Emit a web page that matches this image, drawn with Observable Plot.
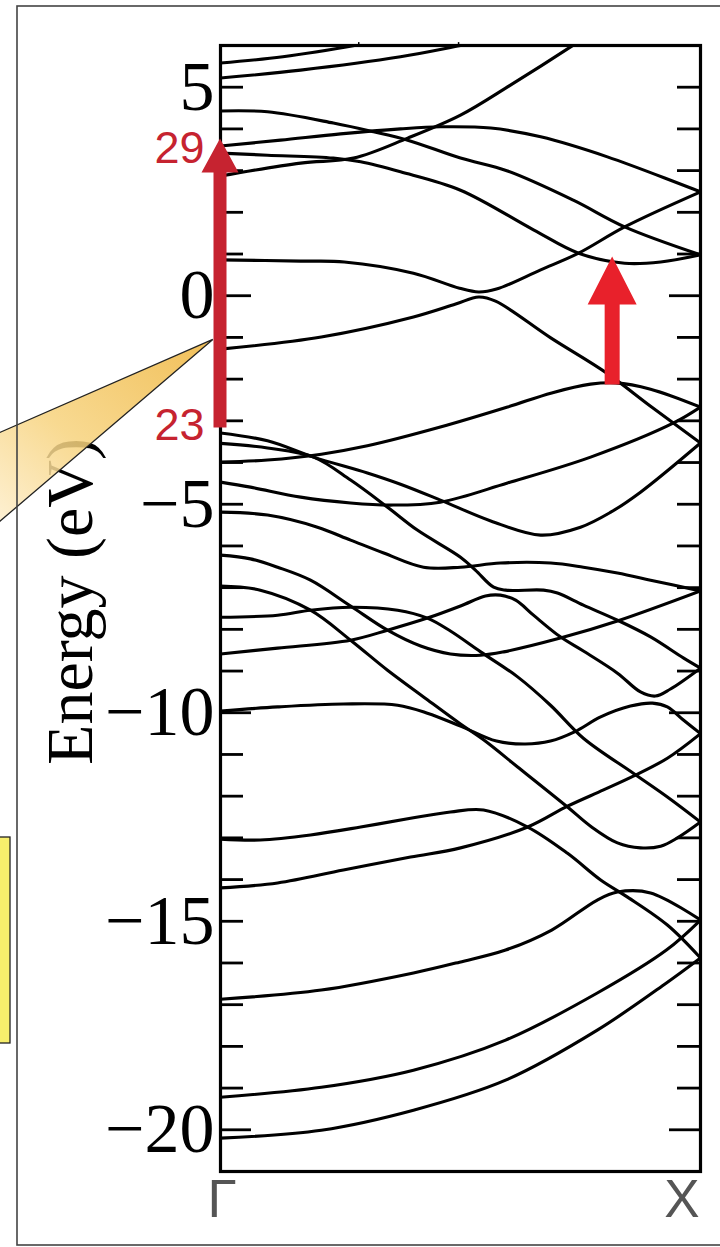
<!DOCTYPE html>
<html><head><meta charset="utf-8">
<script src="https://cdn.jsdelivr.net/npm/d3@7"></script>
<script src="https://cdn.jsdelivr.net/npm/@observablehq/plot@0.6"></script>
<style>html,body{margin:0;padding:0;background:#fff;}#chart{width:720px;height:1247px;overflow:hidden;}</style>
</head><body><div id="chart"></div>
<script>
// k-path labels
const kLabels = ["Γ", "X"];
const kPositions = [0, 1];
// y tick labels (eV) and minor ticks
const yTickLabels = [5, 0, -5, -10, -15, -20];
const yTicks = [5,4,3,2,1,0,-1,-2,-3,-4,-5,-6,-7,-8,-9,-10,-11,-12,-13,-14,-15,-16,-17,-18,-19,-20];
const yLongTicks = [0, -10, -20];
const topTicks = [0.288, 0.496];

// bands: [k, E(eV)]
const bandT1 = [[0,5.58],[0.13,5.73],[0.285,6.01],[0.33,6.11]];
const bandT2 = [[0,5.22],[0.167,5.41],[0.375,5.73],[0.5,6.0],[0.56,6.13]];
const bandT3 = [[0,4.43],[0.098,4.41],[0.235,4.14],[0.319,3.93],[0.39,3.73],[0.5,3.30],[0.598,2.99],[0.735,2.29],[0.842,1.65],[1,0.98]];
const bandT4 = [[0,3.59],[0.125,3.73],[0.25,3.88],[0.375,4.0],[0.458,4.05],[0.563,4.02],[0.667,3.81],[0.806,3.33],[1,2.49]];
const bandT5 = [[0,3.42],[0.098,3.37],[0.235,3.30],[0.292,3.21],[0.375,2.97],[0.5,2.53],[0.652,1.58],[0.746,1.02],[0.842,0.78],[0.917,0.81],[1,0.98]];
const bandT6 = [[0,2.87],[0.167,3.18],[0.277,3.30],[0.39,3.78],[0.5,4.33],[0.604,5.05],[0.735,6.01],[0.77,6.28]];
const bandU1 = [[0,0.86],[0.167,0.83],[0.258,0.81],[0.402,0.54],[0.498,0.18],[0.538,0.09],[0.575,0.16],[0.667,0.62],[0.746,1.02],[0.842,1.65],[1,2.49]];
const bandU2 = [[0,-1.28],[0.210,-0.99],[0.402,-0.51],[0.490,-0.20],[0.538,-0.03],[0.573,-0.13],[0.688,-1.01],[0.804,-1.85],[0.896,-2.65],[1,-3.53]];
const bandM1 = [[0,-3.99],[0.098,-3.94],[0.210,-3.80],[0.306,-3.60],[0.458,-3.15],[0.598,-2.67],[0.690,-2.33],[0.771,-2.12],[0.823,-2.09],[0.896,-2.24],[1,-2.67]];
const bandM2 = [[0,-3.29],[0.098,-3.48],[0.194,-3.87],[0.306,-4.25],[0.375,-4.52],[0.458,-4.90],[0.563,-5.40],[0.667,-5.74],[0.75,-5.55],[0.813,-5.19],[0.875,-4.71],[1,-3.53]];
const bandM3 = [[0,-3.54],[0.098,-3.65],[0.194,-3.87],[0.271,-4.42],[0.348,-5.07],[0.410,-5.62],[0.5,-6.27],[0.531,-6.58],[0.569,-6.99],[0.594,-7.06],[0.673,-7.06],[0.702,-7.13],[0.756,-7.42],[0.827,-7.78],[0.896,-8.18],[0.965,-8.69],[1,-8.93]];
const bandM4 = [[0,-4.47],[0.0625,-4.59],[0.167,-4.83],[0.271,-4.97],[0.354,-5.02],[0.458,-4.95],[0.598,-4.49],[0.771,-3.87],[0.944,-3.05],[1,-2.67]];
const bandG  = [[0,-5.19],[0.098,-5.26],[0.202,-5.55],[0.271,-5.86],[0.340,-6.17],[0.423,-6.51],[0.5,-6.51],[0.583,-6.41],[0.688,-6.41],[0.756,-6.51],[0.827,-6.65],[0.896,-6.82],[1,-7.08]];
const bandA  = [[0,-6.22],[0.0625,-6.31],[0.119,-6.51],[0.1875,-6.82],[0.271,-7.44],[0.348,-8.02],[0.417,-8.40],[0.479,-8.59],[0.542,-8.62],[0.590,-8.54],[0.708,-8.21],[0.827,-7.80],[1,-7.08]];
const bandB  = [[0,-6.96],[0.083,-7.06],[0.1875,-7.54],[0.271,-8.26],[0.348,-8.98],[0.423,-9.62],[0.5,-10.27],[0.548,-10.65],[0.619,-11.30],[0.723,-12.26],[0.771,-12.72],[0.827,-13.12],[0.875,-13.24],[0.917,-13.20],[0.952,-13.00],[1,-12.62]];
const bandC  = [[0,-7.71],[0.119,-7.66],[0.1875,-7.54],[0.271,-7.47],[0.369,-7.54],[0.431,-7.73],[0.479,-8.04],[0.542,-8.54],[0.619,-9.14],[0.6875,-9.82],[0.756,-10.61],[0.860,-11.45],[0.931,-12.02],[1,-12.62]];
const bandD  = [[0,-8.59],[0.119,-8.45],[0.271,-8.26],[0.348,-8.02],[0.431,-7.73],[0.5,-7.44],[0.552,-7.20],[0.583,-7.18],[0.615,-7.30],[0.652,-7.66],[0.708,-8.18],[0.756,-8.52],[0.827,-9.05],[0.875,-9.50],[0.906,-9.60],[0.9375,-9.43],[1,-8.93]];
const bandE  = [[0,-9.96],[0.119,-9.86],[0.256,-9.79],[0.369,-9.82],[0.431,-10.01],[0.5,-10.32],[0.575,-10.68],[0.635,-10.75],[0.6875,-10.68],[0.7375,-10.46],[0.792,-10.10],[0.854,-9.84],[0.9,-9.77],[0.931,-9.86],[0.965,-10.18],[1,-10.5]];
const bandN1 = [[0,-13.03],[0.083,-13.05],[0.1875,-12.93],[0.292,-12.74],[0.396,-12.53],[0.479,-12.38],[0.548,-12.33],[0.640,-12.74],[0.723,-13.37],[0.792,-14.01],[0.848,-14.42],[0.931,-15.09],[1,-15.88]];
const bandN2 = [[0,-14.20],[0.119,-14.08],[0.256,-13.77],[0.396,-13.46],[0.5,-13.24],[0.640,-12.74],[0.723,-12.24],[0.798,-11.85],[0.860,-11.52],[0.931,-11.09],[1,-10.5]];
const bandN3 = [[0,-16.87],[0.210,-16.65],[0.402,-16.24],[0.498,-15.98],[0.594,-15.69],[0.690,-15.21],[0.785,-14.49],[0.827,-14.30],[0.896,-14.32],[1,-14.97]];
const bandN4 = [[0,-19.22],[0.210,-18.98],[0.402,-18.57],[0.594,-17.85],[0.785,-16.72],[0.929,-15.69],[1,-14.97]];
const bandN5 = [[0,-20.20],[0.210,-20.01],[0.402,-19.53],[0.594,-18.81],[0.785,-17.61],[0.929,-16.48],[1,-15.88]];

const bands = [bandT1,bandT2,bandT3,bandT4,bandT5,bandT6,bandU1,bandU2,bandM1,bandM2,bandM3,bandM4,bandG,bandA,bandB,bandC,bandD,bandE,bandN1,bandN2,bandN3,bandN4,bandN5];

// transition arrows (k, from E, to E tip)
const arrowK = [0, 0.817];
const arrowFrom = [-3.17, -2.14];
const arrowTo = [3.76, 0.93];
const arrowColor = ["#c62330", "#e8212b"];
const transitionLabels = ["29", "23"];
const transitionE = [3.53, -3.12];
// callout wedge tip
const wedgeTipK = -0.015, wedgeTipE = -1.06;

const rows = bands.flatMap((b, i) => b.map(([k, E]) => ({band: i, k, E})));
const fmt = d => d < 0 ? "\u2212" + Math.abs(d) : String(d);
const serif = "'Liberation Serif','Times New Roman',serif";
const sans = "'Liberation Sans',Arial,sans-serif";

const fig = Plot.plot({
  width: 720, height: 1247,
  marginLeft: 220, marginRight: 20, marginTop: 45, marginBottom: 76,
  style: {background: "white", fontFamily: serif, overflow: "visible"},
  x: {domain: [0, 1], axis: null},
  y: {domain: [-21, 6], axis: null},
  marks: [
    Plot.text(["Energy (eV)"], {frameAnchor: "left", rotate: -90, dx: -150, dy: -7, fontSize: 66, fontFamily: serif, fill: "black", textAnchor: "middle", lineAnchor: "middle"}),
    Plot.line(rows, {x: "k", y: "E", z: "band", curve: "catmull-rom", stroke: "black", strokeWidth: 3.1, clip: true}),
    Plot.ruleY(yTicks, {y: d => d, x1: 0, x2: d => yLongTicks.includes(d) ? 31/480 : 23/480, stroke: "black", strokeWidth: 2.8}),
    Plot.ruleY(yTicks, {y: d => d, x1: d => 1 - (yLongTicks.includes(d) ? 31/480 : 23/480), x2: 1, stroke: "black", strokeWidth: 2.8}),
    Plot.ruleX(topTicks, {x: d => d, y1: 6, y2: 6.07, stroke: "black", strokeWidth: 1.5}),
    Plot.frame({stroke: "black", strokeWidth: 3.2}),
    Plot.axisY(yTickLabels, {anchor: "left", tickSize: 0, tickPadding: 6, fontSize: 70, fontFamily: serif, tickFormat: fmt, label: null, fill: "black"}),
    Plot.text([kLabels[0]], {x: kPositions[0], y: -21, text: d => d, dy: 29, dx: -13, textAnchor: "start", lineAnchor: "middle", fontSize: 53, fontFamily: sans, fill: "#555"}),
    Plot.text([kLabels[1]], {x: kPositions[1], y: -21, text: d => d, dy: 29, dx: -1, textAnchor: "end", lineAnchor: "middle", fontSize: 53, fontFamily: sans, fill: "#555"}),
    Plot.text(transitionLabels, {x: 0, y: (d, i) => transitionE[i], text: d => d, dx: -16, textAnchor: "end", lineAnchor: "middle", fontSize: 45, fontFamily: sans, fill: arrowColor[0]})
  ]
});
document.getElementById("chart").appendChild(fig);

const svg = d3.select(fig);
const X = v => fig.scale("x").apply(v), Y = v => fig.scale("y").apply(v);

// callout wedge (over the axis title)
const defs = svg.append("defs");
const grad = defs.append("linearGradient").attr("id", "wg").attr("x1", "100%").attr("y1", "0%").attr("x2", "0%").attr("y2", "100%");
grad.append("stop").attr("offset", "0%").attr("stop-color", "#eeb43c");
grad.append("stop").attr("offset", "55%").attr("stop-color", "#f7d37e");
grad.append("stop").attr("offset", "100%").attr("stop-color", "#fff4dc");
const tx = X(wedgeTipK), ty = Y(wedgeTipE);
const ext = tx + 20;
svg.append("path")
  .attr("d", `M${tx},${ty} L${tx - ext},${ty + ext * 0.4366} L${tx - ext},${ty + ext * 0.854} Z`)
  .attr("fill", "url(#wg)").attr("fill-opacity", 0.85).attr("stroke", "#222").attr("stroke-width", 1.3);

// yellow box at left edge
svg.append("rect").attr("x", -4).attr("y", 837).attr("width", 14).attr("height", 206)
  .attr("fill", "#f7ee6c").attr("stroke", "#222").attr("stroke-width", 1.3);

// outer figure border
svg.append("rect").attr("x", 17).attr("y", 6).attr("width", 720).attr("height", 1239)
  .attr("fill", "none").attr("stroke", "#444").attr("stroke-width", 1.6);

// red arrows
const shaftW = [13, 15], headW = [37, 49], headH = [34, 48];
arrowK.forEach((k, i) => {
  const cx = X(k), y0 = Y(arrowFrom[i]), yt = Y(arrowTo[i]);
  const s = shaftW[i] / 2, h = headW[i] / 2, yb = yt + headH[i];
  svg.append("path")
    .attr("d", `M${cx - s},${y0} L${cx - s},${yb} L${cx - h},${yb} L${cx},${yt} L${cx + h},${yb} L${cx + s},${yb} L${cx + s},${y0} Z`)
    .attr("fill", arrowColor[i]);
});
</script>
</body></html>
